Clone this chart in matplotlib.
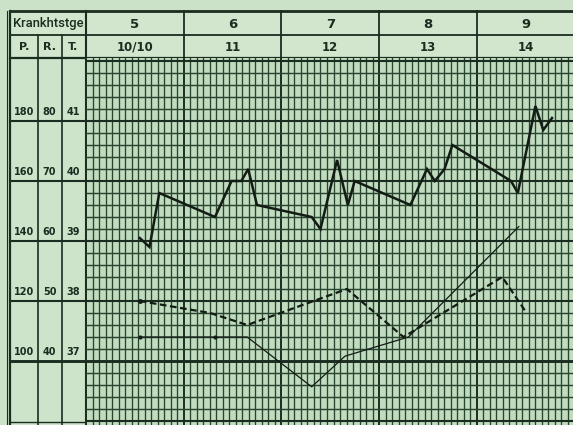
import numpy as np
import matplotlib
matplotlib.use("Agg")
import matplotlib.pyplot as plt
from matplotlib.transforms import blended_transform_factory

# --- chart data -------------------------------------------------------------
day_numbers = ["5", "6", "7", "8", "9"]
dates = ["10/10", "11", "12", "13", "14"]

# scale labels (pulse, respiration, temperature) on each full degree line
scale_P = [180, 160, 140, 120, 100]
scale_R = [80, 70, 60, 50, 40]
scale_T = [41, 40, 39, 38, 37]

# temperature in °C, time in days from the start of day "5"
temp_days = [0.55, 0.65, 0.75, 1.32, 1.49, 1.59, 1.66, 1.75, 2.31, 2.40, 2.57,
             2.68, 2.75, 3.32, 3.49, 3.57, 3.67, 3.75, 4.35, 4.42, 4.60, 4.68, 4.77]
temp_vals = [39.05, 38.9, 39.8, 39.4, 40.0, 40.0, 40.2, 39.6, 39.4, 39.2, 40.35,
             39.6, 40.0, 39.6, 40.2, 40.0, 40.2, 40.6, 40.0, 39.8, 41.25, 40.85, 41.05]

# pulse (beats/min)
pulse_days = [0.55, 1.27, 1.65, 2.67, 3.25, 4.26, 4.51]
pulse_vals = [120, 116, 112, 124, 108, 128, 116]

# respiration (breaths/min)
resp_days = [0.55, 1.32, 1.65, 2.31, 2.65, 3.30, 4.43]
resp_vals = [44, 44, 44, 35.7, 40.8, 44, 62.4]

# --- layout -----------------------------------------------------------------
W, H = 573, 425
GRID_LEFT, GRID_TOP = 86, 58
DAY_PX = 97.7
DEG_PX = 60.0
Y37 = 361
SUBDIV = 15

paper = "#cbe2c8"
cell = "#c1dbbe"
ink = "#1b2c20"
grid_ink = "#284530"


def pulse_to_temp(p):
    return 37 + (np.asarray(p) - 100) / 20.0


def resp_to_temp(r):
    return 37 + (np.asarray(r) - 40) / 10.0


fig = plt.figure(figsize=(W / 100, H / 100), dpi=100, facecolor=paper)

frame = fig.add_axes([0, 0, 1, 1])
frame.set_xlim(0, W)
frame.set_ylim(H, 0)
frame.axis("off")
frame.set_zorder(0)

ax = fig.add_axes([GRID_LEFT / W, 0, 1 - GRID_LEFT / W, (H - GRID_TOP) / H])
ax.set_zorder(1)
ax.set_facecolor(cell)
ax.set_xlim(0, (W - GRID_LEFT) / DAY_PX)
ax.set_ylim(37 - (H - Y37) / DEG_PX, 37 + (Y37 - GRID_TOP) / DEG_PX)
for s in ax.spines.values():
    s.set_visible(False)
ax.set_xticks([])
ax.set_yticks([])

# fine grid
for i in range(0, 5 * SUBDIV + 1):
    x = i / SUBDIV
    if i % SUBDIV == 0:
        ax.axvline(x, color=ink, lw=1.4, zorder=1)
    else:
        ax.axvline(x, color=grid_ink, lw=0.95, zorder=1)
for k in range(int(round(35.8 * 5)), int(round(42.2 * 5)) + 1):
    y = k / 5
    if k % 5 == 0:
        lw = 2.1 if k == 185 else 1.5
        ax.axhline(y, color=ink, lw=lw, zorder=1)
    else:
        ax.axhline(y, color=grid_ink, lw=1.05, zorder=1)

# curves
ax.plot(temp_days, temp_vals, color="#131b15", lw=1.8, zorder=4,
        solid_joinstyle="miter")
ax.plot(pulse_days, pulse_to_temp(pulse_vals), color="#131b15", lw=1.6,
        ls=(0, (3.0, 1.6)), zorder=4)
ax.plot(pulse_days[:1], pulse_to_temp(pulse_vals[:1]), "o", color="#131b15",
        ms=2.5, zorder=4)
ax.plot(resp_days, resp_to_temp(resp_vals), color="#131b15", lw=0.9, zorder=4)
ax.plot(resp_days[:2], resp_to_temp(resp_vals[:2]), "o", color="#131b15",
        ms=2.0, zorder=4)

# --- header and left table ---------------------------------------------------
frame.add_patch(plt.Rectangle((10, 11), W - 10, GRID_TOP - 11,
                              facecolor="#d1e6cd", edgecolor="none", zorder=0))
frame.add_patch(plt.Rectangle((10, GRID_TOP), GRID_LEFT - 10, H - GRID_TOP,
                              facecolor="#cde4ca", edgecolor="none", zorder=0))

frame.plot([10, W], [11, 11], color=ink, lw=2.0)
frame.plot([10, W], [35, 35], color=ink, lw=1.3)
frame.plot([10, W], [GRID_TOP, GRID_TOP], color=ink, lw=1.6)
frame.plot([10, 10], [11, H], color=ink, lw=1.6)
frame.plot([7, 7], [11, H], color=ink, lw=0.8)
frame.plot([GRID_LEFT, GRID_LEFT], [11, H], color=ink, lw=1.5)
frame.plot([38, 38], [35, H], color=ink, lw=1.2)
frame.plot([62, 62], [35, H], color=ink, lw=1.2)
frame.plot([10, GRID_LEFT], [422, 422], color=ink, lw=1.0)

hdr = blended_transform_factory(ax.transData, frame.transData)
for d in range(1, 5):
    frame.plot([d, d], [11, GRID_TOP], color=ink, lw=1.3, transform=hdr)

for d, (num, date) in enumerate(zip(day_numbers, dates)):
    frame.text(d + 0.5, 24, num, transform=hdr, ha="center", va="center",
               fontsize=9.5, fontweight="bold", color=ink)
    frame.text(d + 0.5, 47, date, transform=hdr, ha="center", va="center",
               fontsize=8.5, fontweight="bold", color=ink)

frame.text(48, 23.5, "Krankhtstge", ha="center", va="center", fontsize=9.4,
           family=["Roboto", "DejaVu Sans"], fontweight="medium", color=ink)
for x, lab in zip([24, 49.5, 73], ["P.", "R.", "T."]):
    frame.text(x, 47, lab, ha="center", va="center", fontsize=8,
               fontweight="bold", color=ink)

# scale labels sit just above each degree line
side = blended_transform_factory(frame.transData, ax.transData)
for p, r, t in zip(scale_P, scale_R, scale_T):
    frame.plot([10, GRID_LEFT], [t, t], color=ink, lw=2.1 if t == 37 else 1.5,
               transform=side)
    yl = t + 9 / DEG_PX
    frame.text(24, yl, str(p), transform=side, ha="center", va="center",
               fontsize=7, fontweight="bold", color=ink)
    frame.text(49.5, yl, str(r), transform=side, ha="center", va="center",
               fontsize=7, fontweight="bold", color=ink)
    frame.text(73, yl, str(t), transform=side, ha="center", va="center",
               fontsize=7, fontweight="bold", color=ink)

fig.savefig("out.png", dpi=100, facecolor=paper)
